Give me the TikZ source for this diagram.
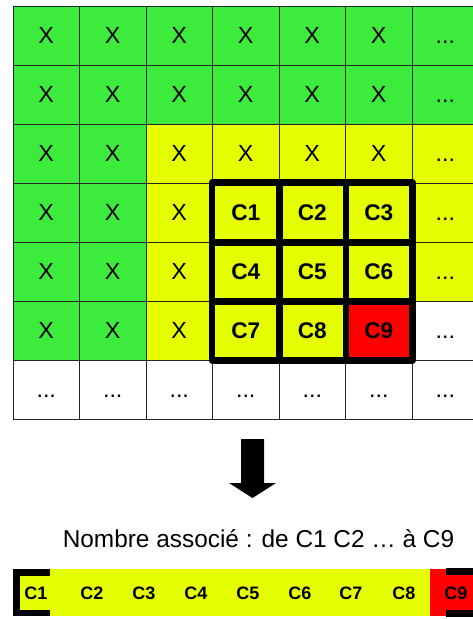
\documentclass[tikz,border=0pt]{standalone}
\usepackage{fontspec}
\setmainfont{Liberation Sans}
\usepackage{tikz}

\definecolor{grn}{RGB}{60,235,60}
\definecolor{ylw}{RGB}{230,255,0}
\definecolor{rd}{RGB}{255,0,0}

\begin{document}
\begin{tikzpicture}[x=0.75pt,y=-0.75pt]
					\tikzstyle{cell}=[rectangle,draw=black!85,line width=0.6pt,minimum width=49.9pt,minimum height=44.25pt,inner sep=0pt,font=\fontsize{17.5}{20}\selectfont,text height=12.5pt,text depth=0pt]
					\tikzstyle{ccell}=[cell,font=\fontsize{17}{20}\selectfont\bfseries]
					\tikzstyle{blabel}=[inner sep=0pt,font=\fontsize{13.5}{16}\selectfont\bfseries,text height=9.7pt,text depth=0pt]
					\tikzstyle{frame}=[line width=5pt,line join=round]
					\clip (0,0) rectangle (473,619);
					% the grid
					\node[cell,fill=grn] (11) at (46.25,35.5) {X};
					\node[cell,fill=grn] (12) at (112.75,35.5) {X};
					\node[cell,fill=grn] (13) at (179.25,35.5) {X};
					\node[cell,fill=grn] (14) at (245.75,35.5) {X};
					\node[cell,fill=grn] (15) at (312.25,35.5) {X};
					\node[cell,fill=grn] (16) at (378.75,35.5) {X};
					\node[cell,fill=grn] (17) at (445.25,35.5) {...};
					\node[cell,fill=grn] (21) at (46.25,94.5) {X};
					\node[cell,fill=grn] (22) at (112.75,94.5) {X};
					\node[cell,fill=grn] (23) at (179.25,94.5) {X};
					\node[cell,fill=grn] (24) at (245.75,94.5) {X};
					\node[cell,fill=grn] (25) at (312.25,94.5) {X};
					\node[cell,fill=grn] (26) at (378.75,94.5) {X};
					\node[cell,fill=grn] (27) at (445.25,94.5) {...};
					\node[cell,fill=grn] (31) at (46.25,153.5) {X};
					\node[cell,fill=grn] (32) at (112.75,153.5) {X};
					\node[cell,fill=ylw] (33) at (179.25,153.5) {X};
					\node[cell,fill=ylw] (34) at (245.75,153.5) {X};
					\node[cell,fill=ylw] (35) at (312.25,153.5) {X};
					\node[cell,fill=ylw] (36) at (378.75,153.5) {X};
					\node[cell,fill=ylw] (37) at (445.25,153.5) {...};
					\node[cell,fill=grn] (41) at (46.25,212.5) {X};
					\node[cell,fill=grn] (42) at (112.75,212.5) {X};
					\node[cell,fill=ylw] (43) at (179.25,212.5) {X};
					\node[ccell,fill=ylw] (44) at (245.75,212.5) {C1};
					\node[ccell,fill=ylw] (45) at (312.25,212.5) {C2};
					\node[ccell,fill=ylw] (46) at (378.75,212.5) {C3};
					\node[cell,fill=ylw] (47) at (445.25,212.5) {...};
					\node[cell,fill=grn] (51) at (46.25,271.5) {X};
					\node[cell,fill=grn] (52) at (112.75,271.5) {X};
					\node[cell,fill=ylw] (53) at (179.25,271.5) {X};
					\node[ccell,fill=ylw] (54) at (245.75,271.5) {C4};
					\node[ccell,fill=ylw] (55) at (312.25,271.5) {C5};
					\node[ccell,fill=ylw] (56) at (378.75,271.5) {C6};
					\node[cell,fill=ylw] (57) at (445.25,271.5) {...};
					\node[cell,fill=grn] (61) at (46.25,330.5) {X};
					\node[cell,fill=grn] (62) at (112.75,330.5) {X};
					\node[cell,fill=ylw] (63) at (179.25,330.5) {X};
					\node[ccell,fill=ylw] (64) at (245.75,330.5) {C7};
					\node[ccell,fill=ylw] (65) at (312.25,330.5) {C8};
					\node[ccell,fill=rd] (66) at (378.75,330.5) {C9};
					\node[cell,fill=white] (67) at (445.25,330.5) {...};
					\node[cell,fill=white] (71) at (46.25,389.5) {...};
					\node[cell,fill=white] (72) at (112.75,389.5) {...};
					\node[cell,fill=white] (73) at (179.25,389.5) {...};
					\node[cell,fill=white] (74) at (245.75,389.5) {...};
					\node[cell,fill=white] (75) at (312.25,389.5) {...};
					\node[cell,fill=white] (76) at (378.75,389.5) {...};
					\node[cell,fill=white] (77) at (445.25,389.5) {...};
					% thick frame round C1..C9
					\draw[frame] (44.north west) rectangle (66.south east);
					\draw[frame] (44.north east) -- (64.south east);
					\draw[frame] (45.north east) -- (65.south east);
					\draw[frame] (44.south west) -- (46.south east);
					\draw[frame] (54.south west) -- (56.south east);
					% arrow
					\fill (241,439) -- (264,439) -- (264,483) -- (276,483) -- (252.5,498) -- (229,483) -- (241,483) -- cycle;
					\node[anchor=base,inner sep=0pt,font=\fontsize{18.3}{21}\selectfont] (txt) at (258.5,547.5) {Nombre associé : de C1 C2 … à C9};
					% the bar
					\fill[ylw] (17,569) rectangle (430,616);
					\fill[rd] (430,569) rectangle (480,616);
					\draw[line width=4.6pt] (50,572.5) -- (16.5,572.5) -- (16.5,613) -- (50,613);
					\draw[line width=4.6pt] (446,571.5) -- (478,571.5) -- (478,613.5) -- (446,613.5);
					\node[blabel] (b1) at (36,593) {C1};
					\node[blabel] (b2) at (92,593) {C2};
					\node[blabel] (b3) at (144,593) {C3};
					\node[blabel] (b4) at (196,593) {C4};
					\node[blabel] (b5) at (248,593) {C5};
					\node[blabel] (b6) at (300,593) {C6};
					\node[blabel] (b7) at (351,593) {C7};
					\node[blabel] (b8) at (404,593) {C8};
					\node[blabel] (b9) at (456,593) {C9};
					\end{tikzpicture}
\end{document}
